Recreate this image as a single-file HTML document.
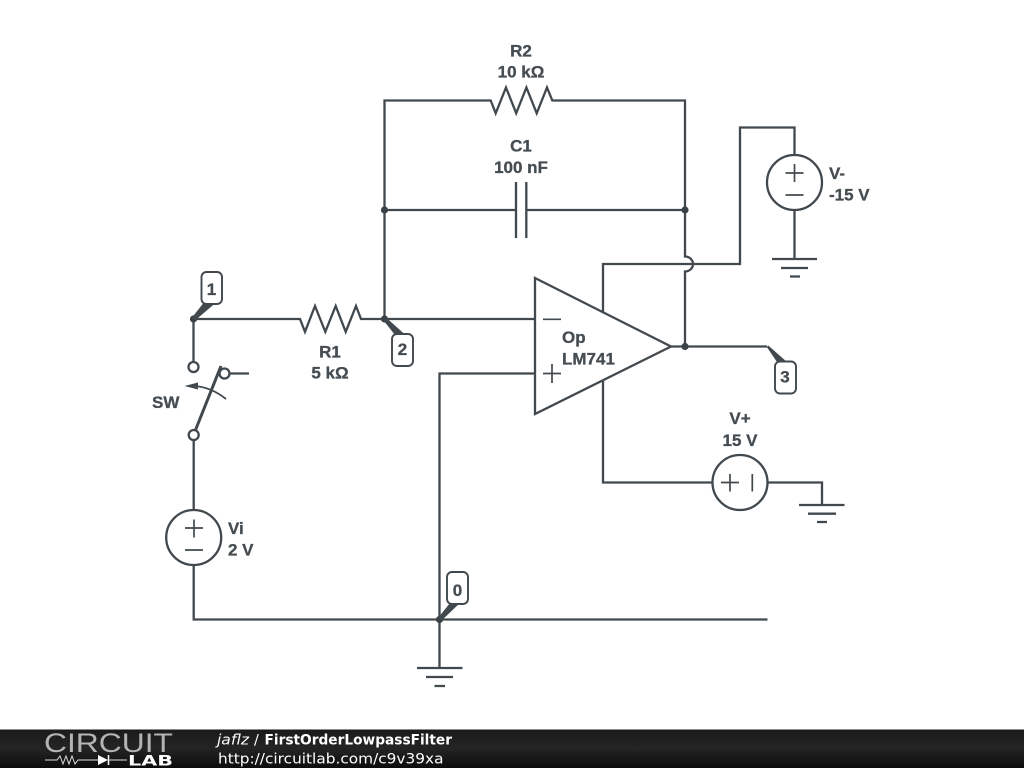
<!DOCTYPE html>
<html>
<head>
<meta charset="utf-8">
<style>
html,body{margin:0;padding:0;background:#fff;width:1024px;height:768px;overflow:hidden}
svg{display:block}
.w{fill:none;stroke:#41494e;stroke-width:2.3;stroke-linejoin:miter}
.s{fill:none;stroke:#41494e;stroke-width:1.7}
.t{font-family:"Liberation Sans",sans-serif;font-weight:bold;font-size:17px;fill:#454d52;stroke:#454d52;stroke-width:.3}
.f{font-family:"DejaVu Sans",sans-serif;font-size:14.3px;fill:#fff}
</style>
</head>
<body>
<svg width="1024" height="768" viewBox="0 0 1024 768" xmlns="http://www.w3.org/2000/svg">
<defs>
<linearGradient id="g" x1="0" y1="0" x2="0" y2="1">
<stop offset="0" stop-color="#1a1a1a"/><stop offset=".5" stop-color="#242424"/><stop offset="1" stop-color="#0c0c0c"/>
</linearGradient>
</defs>
<rect width="1024" height="768" fill="#fff"/>

<!-- feedback wires -->
<path class="w" d="M384.5,319V100.5H490.7L495.7,113.3L506,87.5L516.2,113.3L526.4,87.5L536.7,113.3L547,87.5L552.3,100.5H685V256.5A8,7.5 0 0 1 685,271.5V346.5"/>
<path class="w" d="M384.5,210H516M526.3,210H685"/>
<path class="w" d="M516,182V238M526.3,182V238"/>

<!-- R1 line -->
<path class="w" d="M193.5,319H300L305,331.8L315,306L325.3,331.8L335.7,306L345.7,331.8L356,306L361,319H535"/>

<!-- Opamp -->
<path class="w" d="M535,278L671,346.5L535,414Z"/>
<path class="s" d="M543,319.3H561M543,373.5H561M552,364V383"/>
<path class="w" d="M603,311.5V264H740V127.5H794.5V155"/>
<path class="w" d="M603,380.5V482.5H712.5"/>
<path class="w" d="M671,346.5H767"/>

<!-- V- -->
<circle class="w" cx="794.5" cy="182.5" r="27.5"/>
<path class="s" d="M785.5,173H803.5M794.5,164V182M785.5,195H803.5"/>
<path class="w" d="M794.5,210V259M772,259H817M781,268H808M790,276.5H800"/>

<!-- V+ -->
<circle class="w" cx="740" cy="482.5" r="27.5"/>
<path class="s" d="M721,482.5H739M730,474V491.5M752.3,474V491.5"/>
<path class="w" d="M767.5,482.5H822V505M799,505H844.5M808,513.7H836M817,522H827"/>

<!-- Input + and ground -->
<path class="w" d="M535,373.5H439.5V668M193.7,565V619.5H767.5M417,668H462.5M426,677H453M434.5,686H445"/>

<!-- Vi -->
<circle class="w" cx="193.7" cy="537.5" r="27.5"/>
<path class="s" d="M185,528H203M194,519.5V537.5M185,550H203"/>

<!-- Switch -->
<path class="w" d="M193.5,319V362M193.7,440V510M229.5,373.5H249"/>
<circle class="w" cx="193.5" cy="367" r="5"/>
<circle class="w" cx="224.5" cy="373.5" r="5"/>
<circle class="w" cx="193.7" cy="435" r="5"/>
<path d="M195.5,430L221,366" fill="none" stroke="#41494e" stroke-width="3"/>
<path d="M226,399Q211,387 194,386" fill="none" stroke="#41494e" stroke-width="1.8"/>
<path d="M184.5,386L198,382.5V389.5Z" fill="#41494e"/>

<!-- Dots -->
<g fill="#3a4247">
<circle cx="193.5" cy="319" r="3.6"/>
<circle cx="384.5" cy="319" r="3.6"/>
<circle cx="384.5" cy="210" r="3.6"/>
<circle cx="685" cy="210" r="3.6"/>
<circle cx="685" cy="346.5" r="3.6"/>
<circle cx="439.5" cy="619.5" r="3.6"/>
</g>

<!-- Node labels -->
<g fill="#41494e">
<path d="M192,317.5L203.5,303H215.5L195,320.5Z"/>
<path d="M386,317.5L405.5,335H395L383.5,320.5Z"/>
<path d="M768.3,345.5L787,362H777L766.8,347Z"/>
<path d="M438,618L450,603H460L441,621Z"/>
</g>
<g fill="#fff" stroke="#41494e" stroke-width="1.9">
<rect x="201.5" y="272" width="20.5" height="32" rx="5"/>
<rect x="392" y="334" width="21" height="32" rx="5"/>
<rect x="775" y="361.5" width="21" height="32" rx="5"/>
<rect x="447" y="572" width="21" height="32" rx="5"/>
</g>
<text class="t" x="211.5" y="295" text-anchor="middle">1</text>
<text class="t" x="402.5" y="355" text-anchor="middle">2</text>
<text class="t" x="785" y="382.5" text-anchor="middle">3</text>
<text class="t" x="457.5" y="596" text-anchor="middle">0</text>

<!-- Text labels -->
<text class="t" x="521" y="56.5" text-anchor="middle">R2</text>
<text class="t" x="521" y="77.7" text-anchor="middle">10 kΩ</text>
<text class="t" x="521" y="151.7" text-anchor="middle">C1</text>
<text class="t" x="521" y="173" text-anchor="middle">100 nF</text>
<text class="t" x="330" y="357.3" text-anchor="middle">R1</text>
<text class="t" x="330" y="378.5" text-anchor="middle">5 kΩ</text>
<text class="t" x="152" y="408">SW</text>
<text class="t" x="562" y="343">Op</text>
<text class="t" x="562" y="364.5">LM741</text>
<text class="t" x="740" y="424" text-anchor="middle">V+</text>
<text class="t" x="740" y="446" text-anchor="middle">15 V</text>
<text class="t" x="829" y="179">V-</text>
<text class="t" x="829" y="200.5">-15 V</text>
<text class="t" x="228" y="534">Vi</text>
<text class="t" x="228" y="555.5">2 V</text>

<!-- Footer -->
<rect x="0" y="729" width="1024" height="39" fill="url(#g)"/>
<rect x="0" y="729" width="1024" height="1" fill="#8a8a8a"/>
<text x="44" y="752" font-family="Liberation Sans,sans-serif" font-size="26.5" fill="#b4b4b4" textLength="129" lengthAdjust="spacingAndGlyphs">CIRCUIT</text>
<path d="M45,760H57L60,756L63,764L66,756L69,764L72,756L75,764L78,760H98" fill="none" stroke="#ddd" stroke-width="1"/>
<path d="M98,755L108,760L98,765Z" fill="#fff"/>
<path d="M108.5,755V765" stroke="#fff" stroke-width="1.5"/>
<path d="M108,760H127" stroke="#ddd" stroke-width="1"/>
<text x="128" y="765.5" font-family="DejaVu Sans,sans-serif" font-weight="bold" font-size="14" fill="#fff" textLength="45" lengthAdjust="spacingAndGlyphs">LAB</text>
<text class="f" x="217" y="744.5" font-style="italic" textLength="32" lengthAdjust="spacingAndGlyphs">jaflz</text>
<text class="f" x="254" y="744.5">/</text>
<text class="f" x="264.5" y="744.5" font-weight="bold" textLength="187.5" lengthAdjust="spacingAndGlyphs">FirstOrderLowpassFilter</text>
<text class="f" x="218" y="763.5" textLength="225.5" lengthAdjust="spacingAndGlyphs">http://circuitlab.com/c9v39xa</text>
</svg>
</body>
</html>
